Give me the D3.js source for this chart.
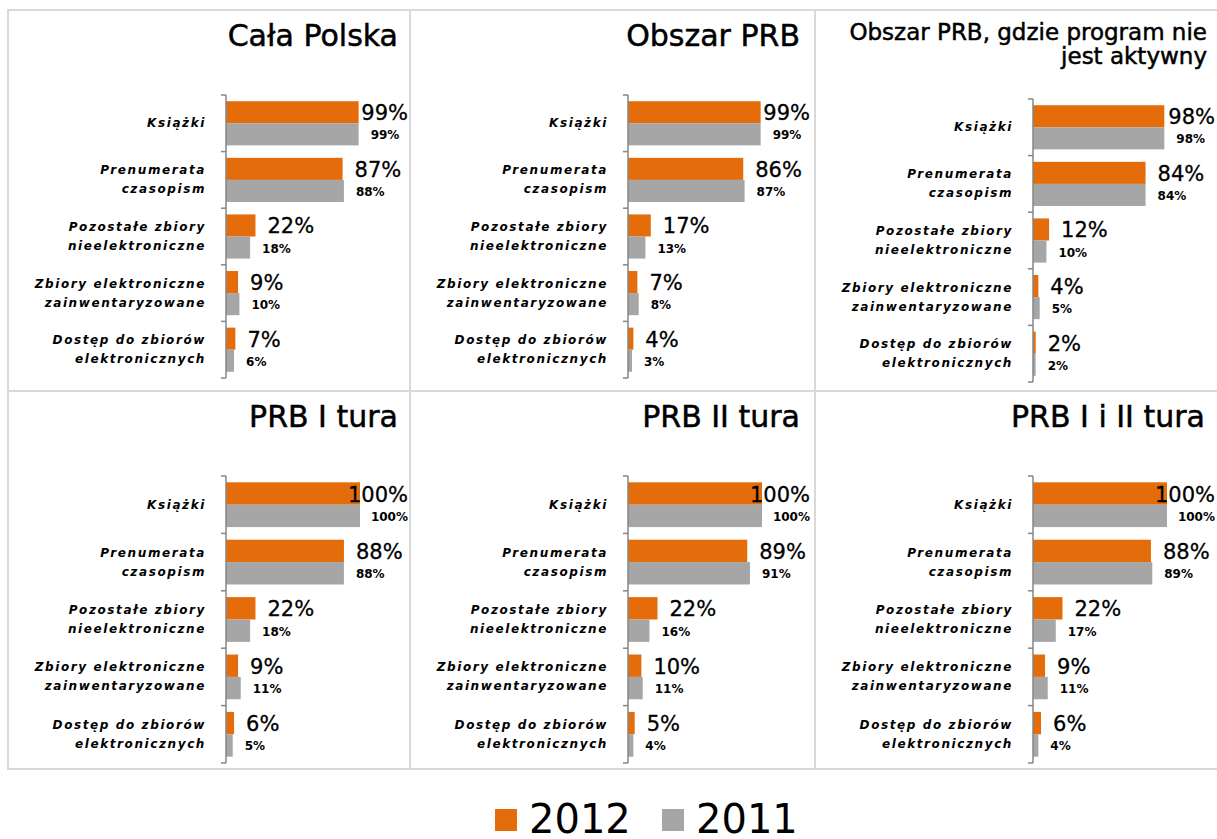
<!DOCTYPE html>
<html>
<head>
<meta charset="utf-8">
<script src="https://cdn.jsdelivr.net/npm/d3@7"></script>
<style>
  body { margin: 0; background: #fff; }
  svg { display: block; font-family: "DejaVu Sans", Verdana, sans-serif; }
</style>
</head>
<body>
<script>
// data
var categories = ['Książki', 'Prenumerata czasopism', 'Pozostałe zbiory nieelektroniczne',
  'Zbiory elektroniczne zainwentaryzowane', 'Dostęp do zbiorów elektronicznych']
var categoryLines = [['Książki'], ['Prenumerata', 'czasopism'], ['Pozostałe zbiory', 'nieelektroniczne'],
  ['Zbiory elektroniczne', 'zainwentaryzowane'], ['Dostęp do zbiorów', 'elektronicznych']]
var years = ['2012', '2011']
var titles = [['Cała Polska'], ['Obszar PRB'], ['Obszar PRB, gdzie program nie', 'jest aktywny'],
  ['PRB I tura'], ['PRB II tura'], ['PRB I i II tura']]
var values2012 = [
  [99, 87, 22, 9, 7],
  [99, 86, 17, 7, 4],
  [98, 84, 12, 4, 2],
  [100, 88, 22, 9, 6],
  [100, 89, 22, 10, 5],
  [100, 88, 22, 9, 6]
]
var values2011 = [
  [99, 88, 18, 10, 6],
  [99, 87, 13, 8, 3],
  [98, 84, 10, 5, 2],
  [100, 88, 18, 11, 5],
  [100, 91, 16, 11, 4],
  [100, 89, 17, 11, 4]
]

var colors = {'2012': '#E46C0A', '2011': '#A6A6A6'}
var W = 1217, H = 839
var colLeft = [8, 410, 815], colRight = [410, 815, 1230]
var rowTop = [10, 391], rowBottom = [391, 769]

var svg = d3.select('body').append('svg')
  .attr('width', W).attr('height', H)

// panel grid
for (var r = 0; r < 2; r++) {
  for (var c = 0; c < 3; c++) {
    svg.append('rect')
      .attr('x', colLeft[c]).attr('y', rowTop[r])
      .attr('width', colRight[c] - colLeft[c]).attr('height', rowBottom[r] - rowTop[r])
      .attr('fill', 'none').attr('stroke', '#d9d9d9').attr('stroke-width', 2)
  }
}

titles.forEach(function(t, i) {
  var r = Math.floor(i / 3), c = i % 3
  drawPanel(i, colLeft[c], rowTop[r], r)
})

function drawPanel(i, left, top, row) {
  var axisX = left + 218
  var shift = (i === 2) ? 4 : 0
  var y0 = top + 85 + shift, y1 = top + (row === 0 ? 368 : 372) + shift
  var limit = axisX + 182

  var g = svg.append('g')

  // title
  var t = titles[i]
  var tt = g.append('text')
    .attr('text-anchor', 'end')
    .attr('fill', '#000')
    .attr('stroke', '#000').attr('stroke-width', 0.5)
  if (t.length === 1) {
    tt.attr('font-size', '30px')
    tt.append('tspan').attr('x', left + 390).attr('y', top + 36).text(t[0])
  } else {
    tt.attr('font-size', '23px')
    t.forEach(function(line, k) {
      tt.append('tspan').attr('x', left + 392).attr('y', top + 30 + k * 24).text(line)
    })
  }

  var y = d3.scaleBand().domain(categories).range([y0, y1])
    .paddingInner(0.22).paddingOuter(0.11)
  var ys = d3.scaleBand().domain(years).range([0, y.bandwidth()])
  var x = d3.scaleLinear().domain([0, 100]).range([axisX, axisX + 134])

  var rows = categories.map(function(cat, k) {
    return {cat: cat, lines: categoryLines[k], v: {'2012': values2012[i][k], '2011': values2011[i][k]}}
  })

  // bars
  years.forEach(function(yr) {
    g.selectAll('.bar' + yr).data(rows).enter().append('rect')
      .attr('x', axisX)
      .attr('y', function(d) { return y(d.cat) + ys(yr) })
      .attr('width', function(d) { return x(d.v[yr]) - axisX })
      .attr('height', ys.bandwidth())
      .attr('fill', colors[yr])
  })

  // value labels
  years.forEach(function(yr) {
    var big = yr === '2012'
    g.selectAll('.lab' + yr).data(rows).enter().append('text')
      .attr('font-size', big ? '21px' : '12px')
      .attr('font-weight', big ? 'normal' : 'bold')
      .attr('fill', '#000')
      .attr('stroke', big ? '#000' : 'none').attr('stroke-width', 0.3)
      .attr('dominant-baseline', 'central')
      .attr('y', function(d) { return y(d.cat) + ys(yr) + ys.bandwidth() / 2 + 1 })
      .text(function(d) { return d.v[yr] + '%' })
      .attr('x', function(d) {
        var w = this.getComputedTextLength()
        return Math.min(x(d.v[yr]) + 12, limit - w)
      })
  })

  // axis line and ticks at band boundaries
  g.append('line')
    .attr('x1', axisX).attr('x2', axisX).attr('y1', y0).attr('y2', y1)
    .attr('stroke', '#868686').attr('stroke-width', 1.5)
  var bounds = categories.map(function(c) { return y(c) - y.step() * y.paddingInner() / 2 })
  bounds[0] = y0
  bounds.push(y1)
  g.selectAll('.tick').data(bounds).enter().append('line')
    .attr('x1', axisX - 5).attr('x2', axisX)
    .attr('y1', function(d) { return d }).attr('y2', function(d) { return d })
    .attr('stroke', '#868686').attr('stroke-width', 1.5)

  // category labels
  rows.forEach(function(d) {
    var cy = y(d.cat) + y.bandwidth() / 2
    var lab = g.append('text')
      .attr('text-anchor', 'end')
      .attr('font-size', '12px')
      .attr('font-style', 'italic')
      .attr('font-weight', 'bold')
      .attr('letter-spacing', '1.6px')
      .attr('fill', '#000')
      .attr('dominant-baseline', 'central')
    d.lines.forEach(function(line, k) {
      var off = d.lines.length === 1 ? 0 : (k === 0 ? -9.5 : 9.5)
      lab.append('tspan').attr('x', axisX - 20).attr('y', cy + off).text(line)
    })
  })
}

// legend
var legend = svg.append('g')
var lx = [495, 662]
years.forEach(function(yr, k) {
  legend.append('rect')
    .attr('x', lx[k]).attr('y', 809).attr('width', 22).attr('height', 22)
    .attr('fill', colors[yr])
  legend.append('text')
    .attr('x', lx[k] + 34).attr('y', 833)
    .attr('font-size', '40px').attr('fill', '#000')
    .text(yr)
})
</script>
</body>
</html>
